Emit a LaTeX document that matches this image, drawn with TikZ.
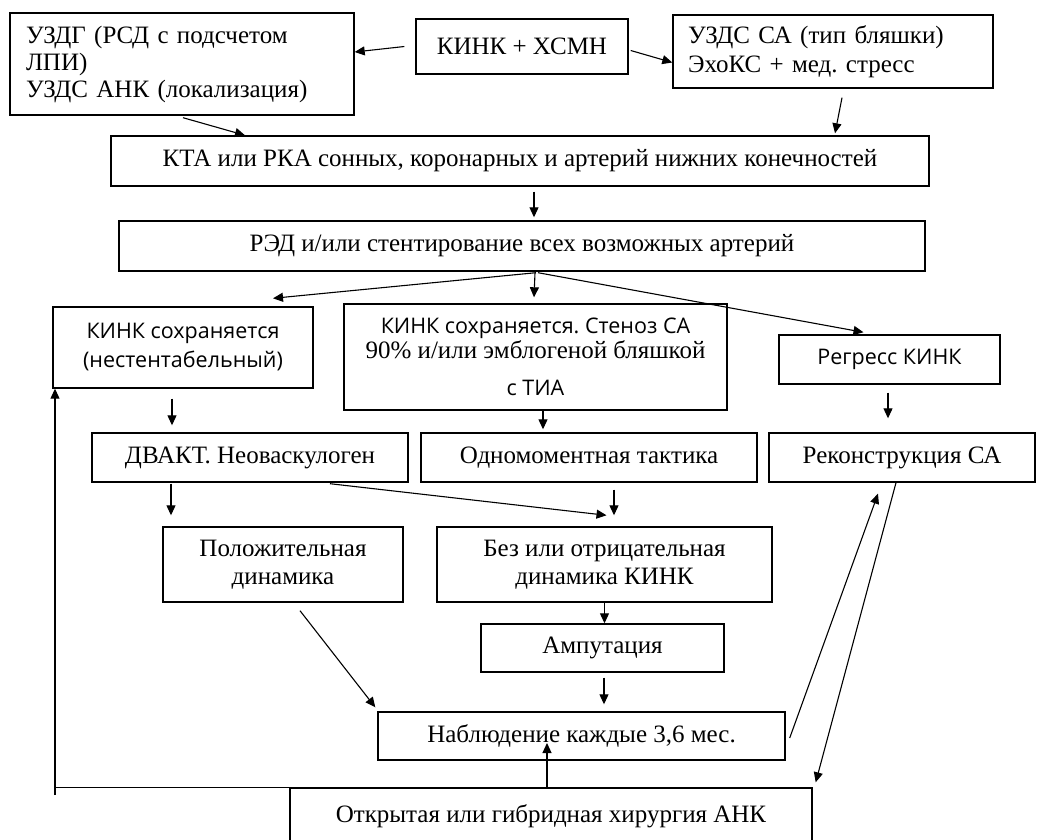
\documentclass[tikz,border=0pt]{standalone}
\usepackage{fontspec}
\setmainfont{Liberation Serif}
\newfontfamily\sansru{Open Sans}
\usetikzlibrary{arrows.meta,calc}

\tikzset{
  box/.style={draw, line width=1.4pt, inner sep=0pt, align=center, font=\fontsize{25}{28}\selectfont},
  sbox/.style={box, font=\fontsize{21.5}{29}\sansru},
  arr/.style={line width=1.1pt, -{Triangle[length=10pt,width=9pt]}},
  ln/.style={line width=1.1pt}
}

\begin{document}
\frenchspacing
\begin{tikzpicture}[x=1pt,y=-1pt]
	\useasboundingbox (0,0) rectangle (1052,840);

	% top
	\node[box, minimum width=344pt, minimum height=102pt, align=left, text width=312pt, font=\fontsize{25}{27}\selectfont] (uzdg) at (182,64) {УЗДГ (РСД с подсчетом\\ЛПИ)\\УЗДС АНК (локализация)};
	\node[box, minimum width=212pt, minimum height=55pt] (kinkx) at (522,46.5) {КИНК + ХСМН};
	\node[box, minimum width=320pt, minimum height=73pt, align=left, text width=290pt, font=\fontsize{25}{29}\selectfont] (uzdsca) at (833,51.5) {УЗДС СА (тип бляшки)\\ЭхоКС + мед. стресс};

	\node[box, minimum width=818pt, minimum height=50pt] (kta) at (520,161) {КТА или РКА сонных, коронарных и артерий нижних конечностей};
	\node[box, minimum width=806pt, minimum height=50pt] (red) at (522,246) {РЭД и/или стентирование всех возможных артерий};

	% three branches
	\node[sbox, minimum width=260pt, minimum height=81pt] (kinkleft) at (183,347.5) {КИНК сохраняется\\(нестентабельный)};
	\node[box, minimum width=383pt, minimum height=106pt, font=\fontsize{25}{25}\selectfont] (kinkmid) at (535.5,357) {{\sansru\fontsize{21.5}{25}\selectfont КИНК сохраняется. Стеноз СА}\\90\% и/или эмблогеной бляшкой\\[12pt]{\sansru\fontsize{21.5}{25}\selectfont с ТИА}};
	\node[sbox, minimum width=221pt, minimum height=49pt] (regress) at (889.5,359.5) {Регресс КИНК};

	\node[box, minimum width=316pt, minimum height=49pt] (dvakt) at (250,457.5) {ДВАКТ. Неоваскулоген};
	\node[box, minimum width=336pt, minimum height=49pt] (odnom) at (589,457.5) {Одномоментная тактика};
	\node[box, minimum width=266pt, minimum height=49pt] (rekon) at (902,457.5) {Реконструкция СА};

	\node[box, minimum width=240pt, minimum height=75pt] (polozh) at (283,564.5) {Положительная\\динамика};
	\node[box, minimum width=335pt, minimum height=75pt] (bez) at (604.5,564.5) {Без или отрицательная\\динамика КИНК};

	\node[box, minimum width=243pt, minimum height=48pt] (amput) at (602.5,648) {Ампутация};
	\node[box, minimum width=407pt, minimum height=48pt] (nabl) at (581.5,736) {Наблюдение каждые 3,6 мес.};
	\node[box, minimum width=522pt, minimum height=56pt] (otkr) at (551,816) {Открытая или гибридная хирургия АНК};

	% arrows
	\draw[arr] ($(kinkx.west)+(-11,0)$) -- ($(uzdg.east)+(0,-12)$);
	\draw[arr] ($(kinkx.east)+(2,4)$) -- ($(uzdsca.west)+(0,11)$);
	\draw[arr] ($(uzdg.south)+(1,2)$) -- ($(kta.north)+(-275,0)$);
	\draw[arr] ($(uzdsca.south)+(9,9)$) -- ($(kta.north)+(315,-2)$);
	\draw[arr] ($(kta.south)+(14,5)$) -- ($(red.north)+(12,-3)$);

	\draw[arr] ($(red.south)+(14,1)$) -- ($(kinkleft.north)+(90,-8)$);
	\draw[arr] ($(red.south)+(13,1)$) -- ($(kinkmid.north)+(-1.5,-6)$);
	\draw[arr] ($(red.south)+(16,1)$) -- ($(regress.north)+(-26,-2)$);

	\draw[arr] ($(kinkleft.south)+(-11,10)$) -- ($(dvakt.north)+(-78,-7)$);
	\draw[arr] ($(kinkmid.south)+(7.5,0)$) -- ($(odnom.north)+(-46,-3)$);
	\draw[arr] ($(regress.south)+(-1.5,8)$) -- ($(rekon.north)+(-14,-14)$);

	\draw[arr] ($(dvakt.south)+(-79,1)$) -- ($(polozh.north)+(-112,-11)$);
	\draw[arr] ($(dvakt.south)+(80,1)$) -- ($(bez.north)+(2,-11)$);
	\draw[arr] ($(odnom.south)+(25,7)$) -- ($(bez.north)+(9.5,-11)$);

	\draw[arr] (bez.south) -- (bez.south |- amput.north);
	\draw[arr] ($(amput.south)+(1.5,5)$) -- ($(amput.south |- nabl.north)+(1.5,-7)$);
	\draw[arr] ($(polozh.south)+(17,8)$) -- ($(nabl.north west)+(-2,-4)$);

	\draw[arr] ($(nabl.east)+(4,2)$) -- ($(rekon.south)+(-24,11)$);
	\draw[arr] ($(rekon.south)+(-6,0)$) -- ($(otkr.north east)+(3,-5)$);
	\draw[arr] ($(otkr.north)+(-4,0)$) -- ($(nabl.center)+(-34.5,7)$);

	% back to the left box
	\coordinate (back) at (55,795);
	\draw[ln] (otkr.north west) -- (back |- otkr.north west);
	\draw[arr] (back) -- (back |- kinkleft.south);
\end{tikzpicture}
\end{document}
